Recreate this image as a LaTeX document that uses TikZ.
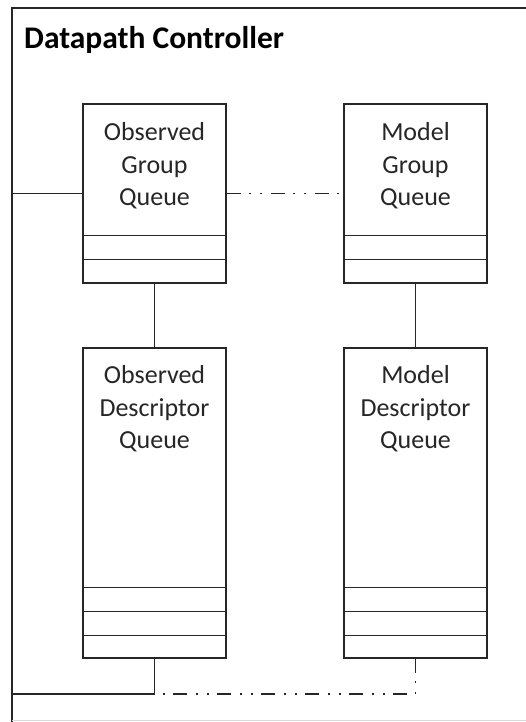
\documentclass[tikz,border=0pt]{standalone}
\usepackage{fontspec}
\setmainfont{Carlito}
\begin{document}
\begin{tikzpicture}[x=1pt,y=-1pt,
  ln/.style={draw=black!85, line width=1.4pt},
  dd/.style={ln, dash pattern=on 14pt off 8pt on 2pt off 9pt on 2pt off 9pt},
  qbox/.style={ln, rectangle, minimum width=143pt, inner sep=0pt, fill=white},
  qtext/.style={align=center, font=\fontsize{26}{32.5}\selectfont, text=black!85, inner sep=0pt},
]
\useasboundingbox (0,0) rectangle (526,722);
% frame
\coordinate (ftl) at (12,8);
\coordinate (ftr) at (526,8);
\coordinate (fbl) at (12,722);
\draw[ln] (fbl) -- (ftl) -- (ftr);
\draw[black!15, line width=0.8pt] (12,720.5) -- (526,720.5);
\node[anchor=base west, font=\bfseries\fontsize{31.5}{36}\selectfont, text=black, inner sep=0pt] (title) at (24,49) {Datapath Controller};
% boxes
\node[qbox, minimum height=179pt] (ogq) at (154.5,193.5) {};
\node[qbox, minimum height=179pt] (mgq) at (415.5,193.5) {};
\node[qbox, minimum height=310pt] (odq) at (154.5,503) {};
\node[qbox, minimum height=310pt] (mdq) at (415.5,503) {};
% dividers
\foreach \b in {ogq,mgq}{
  \foreach \d in {24,48}{
    \draw[ln] ([yshift=\d pt]\b.south west) -- ([yshift=\d pt]\b.south east);
  }
}
\foreach \b in {odq,mdq}{
  \foreach \d in {23,47,71}{
    \draw[ln] ([yshift=\d pt]\b.south west) -- ([yshift=\d pt]\b.south east);
  }
}
% texts
\node[qtext] (ogqt) at (154.5,166) {Observed\\Group\\Queue};
\node[qtext] (mgqt) at (415.5,166) {Model\\Group\\Queue};
\node[qtext] (odqt) at (154.5,409) {Observed\\Descriptor\\Queue};
\node[qtext] (mdqt) at (415.5,409) {Model\\Descriptor\\Queue};
% connectors
\coordinate (lin) at (12,193.5);
\draw[ln] (lin) -- (ogq.west);
\draw[dd] (ogq.east) -- (mgq.west);
\draw[ln] (ogq.south) -- (odq.north);
\draw[ln] (mgq.south) -- (mdq.north);
\coordinate (bl) at (12,694);
\coordinate (bo) at (154.5,694);
\coordinate (bm) at (415.5,694);
\draw[dd] (mdq.south) -- (bm) -- (bl);
\draw[ln] (odq.south) -- (bo) -- (bl);
\end{tikzpicture}
\end{document}
